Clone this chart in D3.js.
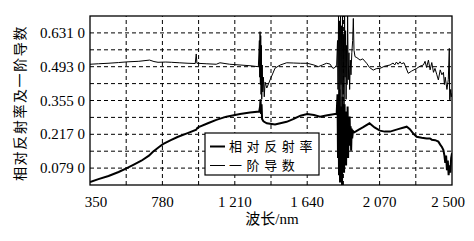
<!DOCTYPE html>
<html>
<head>
<meta charset="utf-8">
<script src="https://cdn.jsdelivr.net/npm/d3@7"></script>
<style>
  body { margin: 0; background: #fff; }
  svg { display: block; }
</style>
</head>
<body>
<script>
// 波长 (nm) 与相对反射率
const reflWl = [350, 400, 460, 520, 566, 610, 655, 700, 724, 760, 783, 830, 873, 930, 981, 988, 995, 1050, 1100, 1160, 1241, 1300, 1355,
  1360, 1363, 1366, 1369, 1372, 1380, 1400, 1449, 1480, 1518, 1560, 1600, 1640, 1680, 1716, 1760, 1805, 1815,
  1820, 1823, 1826, 1829, 1832, 1835, 1838, 1841, 1844, 1847, 1850, 1853, 1856, 1859, 1862, 1865, 1868, 1871, 1874, 1877,
  1880, 1883, 1886, 1889, 1892, 1895, 1898, 1901, 1904, 1907, 1912,
  1920, 1944, 1970, 2010, 2040, 2072, 2100, 2132, 2180, 2231, 2250, 2270, 2290, 2320, 2350, 2369, 2380, 2400, 2419, 2430,
  2440, 2449, 2455, 2460, 2465, 2470, 2475, 2480, 2485, 2490, 2495, 2500];
const reflVal = [0.022, 0.034, 0.047, 0.063, 0.078, 0.093, 0.109, 0.130, 0.146, 0.165, 0.177, 0.193, 0.207, 0.222, 0.236, 0.244, 0.246, 0.262, 0.276, 0.289, 0.300, 0.306, 0.310,
  0.330, 0.360, 0.300, 0.340, 0.280, 0.270, 0.262, 0.257, 0.262, 0.268, 0.280, 0.293, 0.300, 0.296, 0.289, 0.295, 0.300, 0.300,
  0.38, 0.12, 0.35, 0.05, 0.40, 0.02, 0.33, 0.08, 0.30, 0.01, 0.37, 0.10, 0.28, 0.06, 0.34, 0.14, 0.31, 0.09, 0.27, 0.15,
  0.33, 0.12, 0.26, 0.17, 0.29, 0.19, 0.25, 0.15, 0.24, 0.20, 0.23,
  0.225, 0.235, 0.245, 0.262, 0.245, 0.232, 0.228, 0.228, 0.238, 0.248, 0.238, 0.220, 0.207, 0.203, 0.200, 0.200, 0.195, 0.193, 0.187, 0.175,
  0.165, 0.153, 0.130, 0.100, 0.130, 0.070, 0.110, 0.050, 0.090, 0.060, 0.120, 0.140];

// 波长 (nm) 与一阶导数
const derivWl = [350, 400, 457, 520, 576, 640, 704, 730, 754, 800, 833, 880, 932, 975, 981, 985, 1040, 1100, 1122, 1180, 1241, 1300, 1350,
  1356, 1358, 1360, 1362, 1364, 1366, 1368, 1370, 1373, 1376, 1380, 1385, 1390, 1400, 1420, 1449, 1480, 1518, 1560, 1600, 1640, 1680, 1706, 1730, 1755, 1775, 1793, 1805, 1815,
  1820, 1823, 1826, 1829, 1832, 1835, 1838, 1841, 1844, 1847, 1850, 1853, 1856, 1859, 1862, 1865, 1868, 1871, 1874, 1877,
  1880, 1884, 1888, 1892, 1896, 1900, 1905, 1910, 1914, 1918, 1924, 1935, 1954, 1970, 1993, 2010, 2032, 2050, 2072, 2100, 2132,
  2150, 2160, 2170, 2180, 2191, 2200, 2215, 2240, 2260, 2290, 2310, 2330, 2340, 2349, 2360, 2370, 2380, 2390, 2399, 2410, 2419,
  2430, 2440, 2449, 2455, 2460, 2470, 2478, 2484, 2486, 2488, 2492, 2496, 2500];
const derivVal = [0.503, 0.505, 0.507, 0.510, 0.513, 0.515, 0.520, 0.514, 0.511, 0.512, 0.511, 0.509, 0.507, 0.506, 0.545, 0.507, 0.505, 0.503, 0.509, 0.503, 0.500, 0.497, 0.493,
  0.600, 0.450, 0.636, 0.420, 0.620, 0.380, 0.580, 0.360, 0.500, 0.390, 0.450, 0.370, 0.430, 0.406, 0.440, 0.487, 0.500, 0.509, 0.508, 0.507, 0.507, 0.500, 0.493, 0.500, 0.507, 0.504, 0.486, 0.490, 0.500,
  0.60, 0.40, 0.70, 0.35, 0.68, 0.30, 0.70, 0.42, 0.66, 0.28, 0.70, 0.38, 0.62, 0.32, 0.70, 0.45, 0.64, 0.36, 0.58, 0.42,
  0.70, 0.44, 0.55, 0.40, 0.52, 0.46, 0.55, 0.60, 0.69, 0.56, 0.534, 0.530, 0.520, 0.525, 0.507, 0.490, 0.479, 0.485, 0.486, 0.495, 0.500,
  0.508, 0.500, 0.512, 0.503, 0.513, 0.505, 0.509, 0.466, 0.475, 0.486, 0.495, 0.500, 0.515, 0.490, 0.520, 0.480, 0.510, 0.470, 0.486, 0.460, 0.439,
  0.480, 0.460, 0.470, 0.420, 0.450, 0.400, 0.440, 0.568, 0.360, 0.357, 0.400, 0.370, 0.385];

const xTicks = [350, 780, 1210, 1640, 2070, 2500];
const xTickLabels = ["350", "780", "1 210", "1 640", "2 070", "2 500"];
const yTicks = [0.079, 0.217, 0.355, 0.493, 0.631];
const yTickLabels = ["0.079 0", "0.217 0", "0.355 0", "0.493 0", "0.631 0"];
const seriesNames = ["相对反射率", "一阶导数"];

const width = 474, height = 241;
const margin = { left: 90, right: 22, top: 16, bottom: 56 };

const svg = d3.select("body").append("svg")
  .attr("width", width)
  .attr("height", height);

const x = d3.scaleLinear().domain([350, 2500]).range([margin.left, width - margin.right]);
const y = d3.scaleLinear().domain([0.01, 0.70]).range([height - margin.bottom, margin.top]);

// 网格线 (每半个刻度一条)
const xGrid = d3.range(350 + 215, 2500, 215);
const yGrid = d3.range(1, 10).map(i => 0.01 + i * 0.069);

svg.append("g").selectAll("line").data(xGrid).join("line")
  .attr("x1", d => x(d)).attr("x2", d => x(d))
  .attr("y1", y.range()[0]).attr("y2", y.range()[1])
  .attr("stroke", "#000").attr("stroke-width", 1).attr("stroke-dasharray", "4,3");

svg.append("g").selectAll("line").data(yGrid).join("line")
  .attr("x1", x.range()[0]).attr("x2", x.range()[1])
  .attr("y1", d => y(d)).attr("y2", d => y(d))
  .attr("stroke", "#000").attr("stroke-width", 1).attr("stroke-dasharray", "4,3");

svg.append("clipPath").attr("id", "clip")
  .append("rect")
  .attr("x", margin.left).attr("y", margin.top)
  .attr("width", x.range()[1] - margin.left)
  .attr("height", y.range()[0] - margin.top);

const line = d3.line().x(d => x(d[0])).y(d => y(d[1]));

const derivData = derivWl.map((w, i) => [w, derivVal[i]]);
const reflData = reflWl.map((w, i) => [w, reflVal[i]]);

svg.append("path").datum(derivData)
  .attr("clip-path", "url(#clip)")
  .attr("d", line)
  .attr("fill", "none").attr("stroke", "#000").attr("stroke-width", 1);

svg.append("path").datum(reflData)
  .attr("clip-path", "url(#clip)")
  .attr("d", line)
  .attr("fill", "none").attr("stroke", "#000").attr("stroke-width", 2);

// 边框
svg.append("rect")
  .attr("x", margin.left).attr("y", margin.top)
  .attr("width", x.range()[1] - margin.left)
  .attr("height", y.range()[0] - margin.top)
  .attr("fill", "none").attr("stroke", "#000").attr("stroke-width", 1.3);

// 刻度标签
const serif = "'Liberation Serif', 'DejaVu Serif', serif";
svg.append("g").selectAll("text").data(xTicks).join("text")
  .attr("x", (d, i) => x(d) + (i === 0 ? 6 : i === xTicks.length - 1 ? -4 : 0))
  .attr("y", 207)
  .attr("text-anchor", "middle")
  .attr("font-family", serif).attr("font-size", 15)
  .text((d, i) => xTickLabels[i]);

svg.append("g").selectAll("text").data(yTicks).join("text")
  .attr("x", 85)
  .attr("y", d => y(d) + 5)
  .attr("text-anchor", "end")
  .attr("font-family", serif).attr("font-size", 15)
  .text((d, i) => yTickLabels[i]);

// 坐标轴标题
const cjk = "'Noto Sans CJK SC', sans-serif";
const xTitle = svg.append("text")
  .attr("x", 272).attr("y", 224)
  .attr("text-anchor", "middle")
  .attr("font-size", 15);
xTitle.append("tspan").attr("font-family", cjk).text("波长");
xTitle.append("tspan").attr("font-family", serif).text("/nm");

svg.append("text")
  .attr("transform", "translate(25,103) rotate(-90)")
  .attr("text-anchor", "middle")
  .attr("font-family", cjk).attr("font-size", 14)
  .attr("letter-spacing", 1.6)
  .text("相对反射率及一阶导数");

// 图例
const legend = svg.append("g");
legend.append("rect")
  .attr("x", 205).attr("y", 133)
  .attr("width", 114).attr("height", 42)
  .attr("fill", "#fff").attr("stroke", "#000").attr("stroke-width", 1.2);

const legendRows = [{ y: 146.5, w: 2 }, { y: 165.5, w: 1 }];
legendRows.forEach((r, i) => {
  legend.append("line")
    .attr("x1", 210).attr("x2", 225)
    .attr("y1", r.y).attr("y2", r.y)
    .attr("stroke", "#000").attr("stroke-width", r.w);
  legend.append("text")
    .attr("x", 229).attr("y", r.y + 4.7)
    .attr("font-family", cjk).attr("font-size", 13)
    .attr("letter-spacing", 4.6)
    .text(seriesNames[i]);
});
</script>
</body>
</html>
